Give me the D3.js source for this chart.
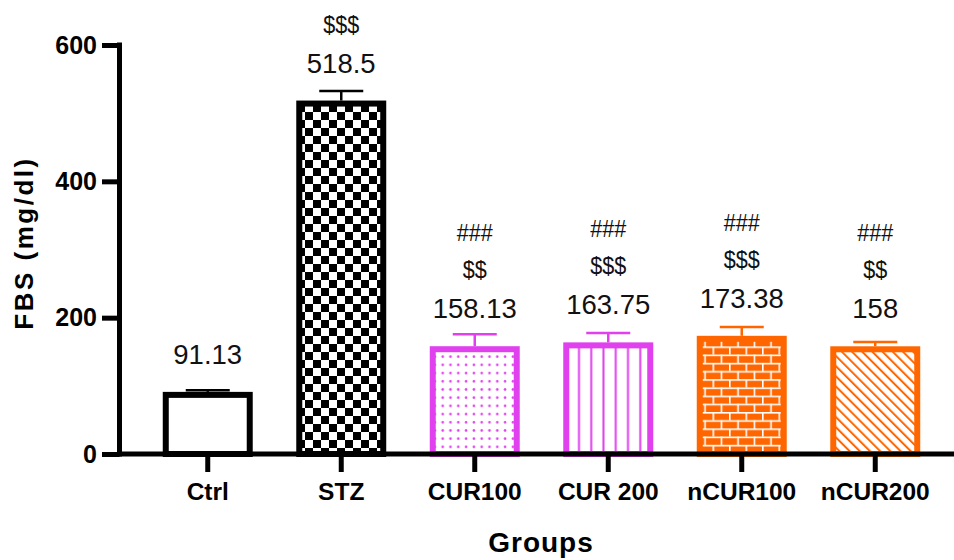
<!DOCTYPE html>
<html>
<head>
<meta charset="utf-8">
<script src="https://cdn.jsdelivr.net/npm/d3@7"></script>
<style>
  html, body { margin: 0; padding: 0; background: #fff; }
  svg { display: block; font-family: "Liberation Sans", Arial, sans-serif; }
</style>
</head>
<body>
<script>
// ---- data ----
const categories = ["Ctrl", "STZ", "CUR100", "CUR 200", "nCUR100", "nCUR200"];
const means = [91.13, 518.5, 158.13, 163.75, 173.38, 158];
const sems = [2.5, 14, 17.6, 13.8, 13, 6.3];
const valueLabels = ["91.13", "518.5", "158.13", "163.75", "173.38", "158"];
const dollarMarks = ["", "$$$", "$$", "$$$", "$$$", "$$"];
const hashMarks = ["", "", "###", "###", "###", "###"];
const yTicks = [0, 200, 400, 600];
const yTitle = "FBS (mg/dl)";
const xTitle = "Groups";

// ---- styles ----
const MAG = "#E040EE";
const ORA = "#FF6600";
const strokeColors = ["#000", "#000", MAG, MAG, ORA, ORA];
const fillIds = ["white", "checker", "dots", "vlines", "bricks", "diag"];
const FONT = "'Liberation Sans', Arial, sans-serif";

const W = 954, H = 560;
const svg = d3.select("body").append("svg").attr("width", W).attr("height", H);
const defs = svg.append("defs");

// checkerboard
let p = defs.append("pattern").attr("id", "checker").attr("patternUnits", "userSpaceOnUse")
  .attr("width", 16).attr("height", 16).attr("x", 1).attr("y", 0);
p.append("rect").attr("width", 16).attr("height", 16).attr("fill", "#fff");
p.append("rect").attr("width", 8).attr("height", 8).attr("fill", "#000");
p.append("rect").attr("x", 8).attr("y", 8).attr("width", 8).attr("height", 8).attr("fill", "#000");

// dots
p = defs.append("pattern").attr("id", "dots").attr("patternUnits", "userSpaceOnUse")
  .attr("width", 7.8).attr("height", 8.2).attr("x", 2).attr("y", 0);
p.append("rect").attr("width", 7.8).attr("height", 8.2).attr("fill", "#fff");
p.append("circle").attr("cx", 3.9).attr("cy", 4.1).attr("r", 1.3).attr("fill", MAG);

// vertical lines
p = defs.append("pattern").attr("id", "vlines").attr("patternUnits", "userSpaceOnUse")
  .attr("width", 12.25).attr("height", 10);
p.append("rect").attr("width", 12.25).attr("height", 10).attr("fill", "#fff");
p.append("rect").attr("x", 2.25).attr("width", 2).attr("height", 10).attr("fill", MAG);

// bricks
p = defs.append("pattern").attr("id", "bricks").attr("patternUnits", "userSpaceOnUse")
  .attr("width", 16.5).attr("height", 16.4).attr("x", 3).attr("y", 2);
p.append("rect").attr("width", 16.5).attr("height", 16.4).attr("fill", ORA);
p.append("rect").attr("y", 0).attr("width", 16.5).attr("height", 1.6).attr("fill", "#fff");
p.append("rect").attr("y", 8.2).attr("width", 16.5).attr("height", 1.6).attr("fill", "#fff");
p.append("rect").attr("x", 0).attr("y", 0).attr("width", 1.6).attr("height", 8.2).attr("fill", "#fff");
p.append("rect").attr("x", 8.25).attr("y", 8.2).attr("width", 1.6).attr("height", 8.2).attr("fill", "#fff");

// diagonal hatch
p = defs.append("pattern").attr("id", "diag").attr("patternUnits", "userSpaceOnUse")
  .attr("width", 7.2).attr("height", 10).attr("patternTransform", "rotate(-45)");
p.append("rect").attr("width", 7.2).attr("height", 10).attr("fill", "#fff");
p.append("rect").attr("x", 0).attr("width", 2).attr("height", 10).attr("fill", ORA);

// ---- scales ----
const y = d3.scaleLinear().domain([0, 600]).range([454, 45]);
const x = d3.scaleBand().domain(categories).range([141, 942])
  .paddingInner(0.371).paddingOuter(0.1855);
const bw = x.bandwidth();
const SW = 6;

const data = categories.map((c, i) => ({
  c, m: means[i], s: sems[i], lab: valueLabels[i],
  dol: dollarMarks[i], hash: hashMarks[i], col: strokeColors[i], fill: fillIds[i]
}));

// ---- bars ----
svg.append("g").selectAll("rect").data(data).join("rect")
  .attr("x", d => x(d.c))
  .attr("y", d => y(d.m) + SW / 2)
  .attr("width", bw)
  .attr("height", d => y(0) - y(d.m) - SW / 2)
  .attr("fill", d => d.fill === "white" ? "#fff" : `url(#${d.fill})`)
  .attr("stroke", d => d.col)
  .attr("stroke-width", SW);

// ---- error bars ----
const eb = svg.append("g").selectAll("g").data(data).join("g")
  .attr("stroke", d => d.col).attr("stroke-width", 2.5);
eb.append("line")
  .attr("x1", d => x(d.c) + bw / 2).attr("x2", d => x(d.c) + bw / 2)
  .attr("y1", d => y(d.m)).attr("y2", d => y(d.m + d.s));
eb.append("line")
  .attr("x1", d => x(d.c) + bw / 2 - 22).attr("x2", d => x(d.c) + bw / 2 + 22)
  .attr("y1", d => y(d.m + d.s)).attr("y2", d => y(d.m + d.s));

// ---- axes ----
const yAxis = svg.append("g").attr("transform", "translate(119.5,0)")
  .call(d3.axisLeft(y).tickValues(yTicks).tickSize(17.5).tickPadding(5).tickSizeOuter(0));
yAxis.select(".domain").remove();
yAxis.selectAll(".tick line").attr("stroke", "#000").attr("stroke-width", 5);
yAxis.selectAll(".tick text").attr("fill", "#000")
  .style("font-size", "25px").style("font-weight", "bold").style("font-family", FONT);

const xAxis = svg.append("g").attr("transform", "translate(0,454)")
  .call(d3.axisBottom(x).tickSize(18).tickPadding(11).tickSizeOuter(0));
xAxis.select(".domain").remove();
xAxis.selectAll(".tick line").attr("stroke", "#000").attr("stroke-width", 5);
xAxis.selectAll(".tick text").attr("fill", "#000")
  .style("font-size", "24.5px").style("font-weight", "bold").style("font-family", FONT);

// axis lines
svg.append("line").attr("x1", 119.5).attr("x2", 119.5).attr("y1", 42.5).attr("y2", 456.5)
  .attr("stroke", "#000").attr("stroke-width", 5);
svg.append("line").attr("x1", 117).attr("x2", W).attr("y1", 454).attr("y2", 454)
  .attr("stroke", "#000").attr("stroke-width", 5);

// ---- annotations ----
const ann = svg.append("g").attr("text-anchor", "middle").attr("fill", "#111");
data.forEach(d => {
  const cx = x(d.c) + bw / 2;
  const base = y(d.m) - 28;
  ann.append("text").attr("x", cx).attr("y", base).style("font-size", "27.5px").text(d.lab);
  let yy = base;
  if (d.dol) {
    yy -= 40;
    ann.append("text").attr("transform", `translate(${cx},${yy}) scale(0.9,1)`)
      .style("font-size", "24px").text(d.dol);
  }
  if (d.hash) {
    yy -= 37;
    ann.append("text").attr("transform", `translate(${cx},${yy}) scale(0.9,1)`)
      .style("font-size", "24px").text(d.hash);
  }
});

// ---- titles ----
svg.append("text").attr("transform", "translate(33,243) rotate(-90)")
  .attr("text-anchor", "middle").style("font-size", "26px").style("font-weight", "bold")
  .style("letter-spacing", "2.5px").attr("fill", "#000").text(yTitle);
svg.append("text").attr("x", 541).attr("y", 552)
  .attr("text-anchor", "middle").style("font-size", "28px").style("font-weight", "bold")
  .style("letter-spacing", "1px").attr("fill", "#000").text(xTitle);
</script>
</body>
</html>
